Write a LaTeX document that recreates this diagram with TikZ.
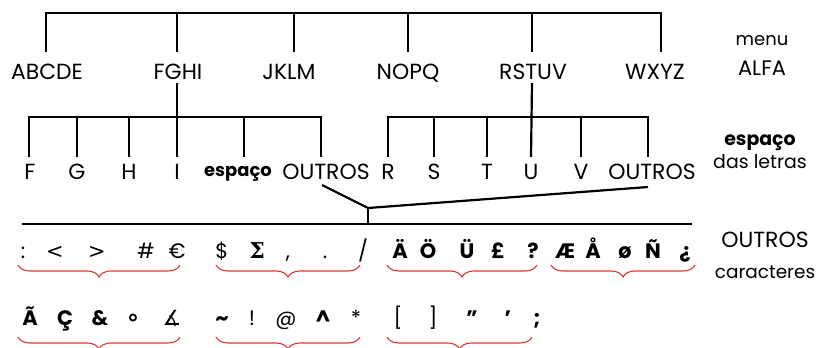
\documentclass[tikz,border=0pt]{standalone}
\usepackage{fontspec}
\setmainfont{Poppins}
\newfontfamily\symfont{DejaVu Sans}
\newfontfamily\sersym{DejaVu Serif}
\usetikzlibrary{decorations.pathreplacing}
\definecolor{bracered}{RGB}{222,55,50}
\begin{document}
\begin{tikzpicture}[x=1bp,y=-1bp,line width=2.2bp,
  lbl/.style={font=\fontsize{22}{24}\selectfont,inner sep=0pt,anchor=base},
  side/.style={font=\fontsize{18}{20}\selectfont,inner sep=0pt,anchor=base},
  ch/.style={font=\fontsize{21}{23}\selectfont,inner sep=0pt,anchor=base},
  chb/.style={font=\fontsize{21}{23}\selectfont\bfseries,inner sep=0pt,anchor=base},
  brc/.style={draw=bracered,line width=1.1bp,decorate,decoration={brace,mirror,amplitude=12bp}}]
\useasboundingbox (0,0) rectangle (819,347);
% level 1
\node[lbl] (a1) at (47,79) {ABCDE};
\node[lbl] (a2) at (178,79) {FGHI};
\node[lbl] (a3) at (289,79) {JKLM};
\node[lbl] (a4) at (408,79) {NOPQ};
\node[lbl] (a5) at (533,79) {RSTUV};
\node[lbl] (a6) at (655,79) {WXYZ};
\coordinate (t1) at (46,52); \coordinate (t2) at (177,52); \coordinate (t3) at (294,52);
\coordinate (t4) at (408,52); \coordinate (t5) at (532,52); \coordinate (t6) at (661,52);
\draw (t1) -- ++(0,-39) -| (t6);
\foreach \i in {2,...,5} \draw (t\i) -- ++(0,-39);
% level 2 labels
\node[lbl] (b1) at (30,179) {F};
\node[lbl] (b2) at (77,179) {G};
\node[lbl] (b3) at (129,179) {H};
\node[lbl] (b4) at (177,179) {I};
\node[lbl,font=\fontsize{18}{20}\selectfont\bfseries] (b5) at (238,176) {espaço};
\node[lbl] (b6) at (326,179) {OUTROS};
\node[lbl] (c1) at (388,179) {R};
\node[lbl] (c2) at (434,179) {S};
\node[lbl] (c3) at (487,179) {T};
\node[lbl] (c4) at (531,179) {U};
\node[lbl] (c5) at (581,179) {V};
\node[lbl] (c6) at (652,179) {OUTROS};
% left subtree
\draw (177,83) -- (177,157);
\draw (29,157) |- (321,117) -- (321,157);
\foreach \x in {77,129,244} \draw (\x,117) -- (\x,157);
% right subtree
\draw (532,83) -- (531,157);
\draw (388,157) |- (648,117) -- (648,157);
\foreach \x in {434,487,581} \draw (\x,117) -- (\x,157);
% converge
\coordinate (j) at (368,208);
\coordinate (o1) at (322,185);
\coordinate (o2) at (648,187);
\draw (o1) -- (j) -- (o2);
\draw (j) -- (368,224);
\draw (22,224) -- (692,224);
% row 1
\node[ch] (r1a) at (23,258) {:};
\node[ch,font=\fontsize{21}{23}\selectfont\symfont] (r1b) at (55,258) {<};
\node[ch,font=\fontsize{21}{23}\selectfont\symfont] (r1c) at (97,258) {>};
\node[ch] (r1d) at (146,258) {\#};
\node[ch] (r1e) at (177,258) {€};
\node[ch] (r1f) at (222,258) {\$};
\node[ch,font=\fontsize{22}{24}\selectfont\sersym\bfseries] (r1g) at (257,258) {Σ};
\node[ch] (r1h) at (288,258) {,};
\node[ch] (r1i) at (325,258) {.};
\node[ch] (r1j) at (363,258) {/};
\node[chb] (r1k) at (400,258) {Ä};
\node[chb] (r1l) at (428,258) {Ö};
\node[chb] (r1m) at (467,258) {Ü};
\node[chb] (r1n) at (498,258) {£};
\node[chb] (r1o) at (533,258) {?};
\node[chb] (r1p) at (565,258) {Æ};
\node[chb] (r1q) at (593,258) {Å};
\node[chb] (r1r) at (625,258) {ø};
\node[chb] (r1s) at (653,258) {Ñ};
\node[chb] (r1t) at (685,258) {¿};
% row 2
\node[chb] (r2a) at (30,325) {Ã};
\node[chb] (r2b) at (65,325) {Ç};
\node[chb] (r2c) at (100,325) {\&};
\node[ch,font=\fontsize{24}{26}\selectfont\symfont\bfseries] (r2d) at (133,325) {∘};
\node[ch,font=\fontsize{21}{23}\selectfont\symfont] (r2e) at (172,325) {∡};
\node[chb] (r2f) at (222,325) {\textasciitilde};
\node[ch] (r2g) at (252,325) {!};
\node[ch] (r2h) at (286,325) {@};
\node[chb] (r2i) at (323,325) {\textasciicircum};
\node[ch] (r2j) at (356,325) {*};
\node[ch] (r2k) at (398,325) {[};
\node[ch] (r2l) at (433,325) {]};
\node[chb] (r2m) at (472,325) {"};
\node[chb] (r2n) at (508,325) {'};
\node[chb] (r2o) at (537,325) {;};
% braces
\draw[brc] (18,265) -- (180,265);
\draw[brc] (216,265) -- (360,265);
\draw[brc] (387,265) -- (537,265);
\draw[brc] (551,265) -- (695,265);
\draw[brc] (18,337) -- (180,337);
\draw[brc] (216,337) -- (360,337);
\draw[brc] (387,337) -- (532,337);
% side labels
\node[side] (s1) at (762,45) {menu};
\node[side,font=\fontsize{21}{23}\selectfont] (s2) at (762,75) {ALFA};
\node[side,font=\fontsize{19}{21}\selectfont\bfseries] (s3) at (760,145) {espaço};
\node[side,font=\fontsize{19}{21}\selectfont] (s4) at (760,168) {das letras};
\node[side,font=\fontsize{22}{24}\selectfont] (s5) at (765,247) {OUTROS};
\node[side,font=\fontsize{18.5}{21}\selectfont] (s6) at (765,278) {caracteres};
\end{tikzpicture}
\end{document}
